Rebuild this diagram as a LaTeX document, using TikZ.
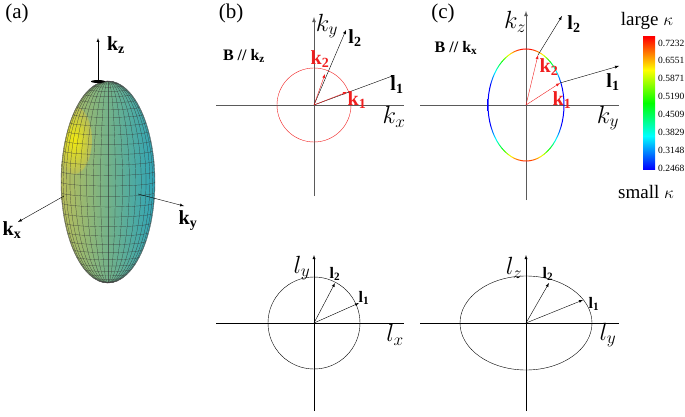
\documentclass[tikz,border=0pt]{standalone}
\usepackage{amsmath,amssymb}
\usepackage{fontspec}
\setmainfont{Liberation Serif}
\usepackage{xcolor}
\usetikzlibrary{calc}
\definecolor{axisgray}{RGB}{90,90,90}
\definecolor{ellred}{RGB}{240,30,30}
\definecolor{ellolive}{RGB}{185,190,90}
\definecolor{ellteal}{RGB}{45,165,185}
\newcommand{\fs}[1]{\fontsize{#1}{#1}\selectfont}
\pgfdeclareverticalshading{kapparing}{100bp}{color(0bp)=(red); color(25bp)=(red);
    color(27.5bp)=(yellow); color(30.5bp)=(green); color(35bp)=(cyan); color(41bp)=(blue);
    color(59bp)=(blue); color(65bp)=(cyan); color(69.5bp)=(green); color(72.5bp)=(yellow);
    color(75bp)=(red); color(100bp)=(red)}
\pgfdeclareverticalshading{kappabar}{100bp}{color(0bp)=(blue); color(25bp)=(blue);
    color(37.5bp)=(cyan); color(50bp)=(green); color(62.5bp)=(yellow); color(75bp)=(red); color(100bp)=(red)}
\begin{document}
\begin{tikzpicture}[x=1pt,y=-1pt,
    axis/.style={draw=axisgray, thick, -latex},
    vec/.style={-latex, thin},
    redvec/.style={-latex, thin, draw=ellred},
    lab/.style={font=\fs{24}, inner sep=1pt},
    blab/.style={font=\fs{20}\bfseries, inner sep=1pt},
    redlab/.style={font=\fs{20}\bfseries, text=ellred, inner sep=1pt},
    panel/.style={font=\fs{21}, inner sep=0pt},
    mesh/.style={black!80, very thin}
]
    \useasboundingbox (0,0) rectangle (685,417);
    % panel labels
    \node[panel] (pa) at (17,13) {(a)};
    \node[panel] (pb) at (231,13) {(b)};
    \node[panel] (pc) at (443,13) {(c)};

    % (a) ellipsoid
    \coordinate (E) at (108,182);
    \begin{scope}
        \clip (E) ellipse [x radius=47, y radius=101];
        \shade[left color=ellolive, right color=ellteal] (60,80) rectangle (156,284);
        \shade[inner color=yellow!90!orange, outer color=ellolive, opacity=0.85]
            (74,140) ellipse [x radius=18, y radius=34];
        \foreach \p in {-81,-72,...,81}
            \draw[mesh] plot[domain=-90:90, samples=25, smooth] ({108+47*sin(\p)*cos(\x)},{182+101*sin(\x)});
        \foreach \q in {-84,-78,...,84}
            \draw[mesh] plot[domain=-90:90, samples=15, smooth] ({108+47*cos(\q)*sin(\x)},{182+101*sin(\q)+4*cos(\q)*cos(\x)});
    \end{scope}
    \draw[black!60, thin] (E) ellipse [x radius=47, y radius=101];
    \fill (98,81.5) ellipse [x radius=7, y radius=1.5];
    \coordinate (kzb) at (98,81);
    \coordinate (kze) at (98,38);
    \coordinate (kxb) at (64,196);
    \coordinate (kxe) at (18,222);
    \coordinate (kyb) at (138,194);
    \coordinate (kye) at (184,206);
    \draw[vec] (kzb) -- (kze);
    \draw[vec] (kxb) -- (kxe);
    \draw[vec] (kyb) -- (kye);
    \node[blab] (kzl) at (116,45) {k$_\mathbf{z}$};
    \node[blab] (kxl) at (12,230) {k$_\mathbf{x}$};
    \node[blab] (kyl) at (188,221) {k$_\mathbf{y}$};

    % (b) upper
    \coordinate (Ob) at (314,105);
    \coordinate (bxl) at (216,105);
    \coordinate (bxr) at (404,105);
    \coordinate (byb) at (314,196);
    \coordinate (byt) at (314,17);
    \draw[axisgray, thick] (bxl) -- (bxr);
    \draw[axis] (byb) -- (byt);
    \draw[ellred, thin] (Ob) circle [radius=37];
    \node[font=\fs{16}\bfseries] (Bz) at (244,56) {B // k$_\mathbf{z}$};
    \node[lab] (bky) at (327,26) {$k_y$};
    \node[lab] (bkx) at (394,117) {$k_x$};
    \coordinate (bl1) at (395,75);
    \coordinate (bl2) at (346,30);
    \coordinate (bk1) at (347,92);
    \coordinate (bk2) at (325,74);
    \draw[vec] (Ob) -- (bl1);
    \draw[vec] (Ob) -- (bl2);
    \draw[redvec] (Ob) -- (bk1);
    \draw[redvec] (Ob) -- (bk2);
    \node[blab] (bl1l) at (397,85) {l$_\mathbf{1}$};
    \node[blab] (bl2l) at (355,38) {l$_\mathbf{2}$};
    \node[redlab] (bk1l) at (357,100) {k$_\mathbf{1}$};
    \node[redlab] (bk2l) at (320,59) {k$_\mathbf{2}$};

    % (c) upper
    \coordinate (Oc) at (526,105);
    \coordinate (cxl) at (420,105);
    \coordinate (cxr) at (619,105);
    \coordinate (cyb) at (526,200);
    \coordinate (cyt) at (526,11);
    \draw[axisgray, thick] (cxl) -- (cxr);
    \draw[axis] (cyb) -- (cyt);
    \begin{scope}[even odd rule]
        \clip (Oc) ellipse [x radius=38.5, y radius=56.5] (Oc) ellipse [x radius=37.5, y radius=55.5];
        \shade[shading=kapparing] (486,48.5) rectangle (566,161.5);
    \end{scope}
    \node[font=\fs{16}\bfseries] (Bx) at (456,48) {B // k$_\mathbf{x}$};
    \node[lab] (cky) at (515,22) {$k_z$};
    \node[lab] (ckx) at (608,118) {$k_y$};
    \coordinate (cl1) at (619,66);
    \coordinate (cl2) at (562,16);
    \coordinate (ck1) at (560,83);
    \coordinate (ck2) at (538,55);
    \draw[vec] (ck1) -- (cl1);
    \draw[vec] (ck2) -- (cl2);
    \draw[redvec] (Oc) -- (ck1);
    \draw[redvec] (Oc) -- (ck2);
    \node[blab] (cl1l) at (613,82) {l$_\mathbf{1}$};
    \node[blab] (cl2l) at (574,24) {l$_\mathbf{2}$};
    \node[redlab] (ck1l) at (562,100) {k$_\mathbf{1}$};
    \node[redlab] (ck2l) at (549,67) {k$_\mathbf{2}$};

    % colour bar
    \shade[shading=kappabar] (643,37) rectangle (655,169);
    \node[font=\fs{19}] (large) at (647,21) {large $\kappa$};
    \node[font=\fs{19}] (small) at (646,192) {small $\kappa$};
    \foreach \v [count=\j from 0] in {0.7232,0.6551,0.5871,0.5190,0.4509,0.3829,0.3148,0.2468}
        \node[font=\fs{9.5}, anchor=west, inner sep=0pt] (cb\j) at (658,{43+17.9*\j}) {\v};

    % (b) lower
    \coordinate (Ob2) at (314,323);
    \coordinate (b2xl) at (216,323);
    \coordinate (b2xr) at (404,323);
    \coordinate (b2yb) at (314,411);
    \coordinate (b2yt) at (314,255);
    \draw[thin] (b2xl) -- (b2xr);
    \draw[thin, -latex] (b2yb) -- (b2yt);
    \draw[thin] (Ob2) circle [radius=46];
    \node[lab] (bly) at (302,268) {$l_y$};
    \node[lab] (blx) at (395,335) {$l_x$};
    \coordinate (b2l1) at (359,303);
    \coordinate (b2l2) at (335,283);
    \draw[vec] (Ob2) -- (b2l1);
    \draw[vec] (Ob2) -- (b2l2);
    \node[font=\fs{16}\bfseries, inner sep=1pt] (b2l1l) at (364,298) {l$_\mathbf{1}$};
    \node[font=\fs{16}\bfseries, inner sep=1pt] (b2l2l) at (335,274) {l$_\mathbf{2}$};

    % (c) lower
    \coordinate (Oc2) at (526,323);
    \coordinate (c2xl) at (420,323);
    \coordinate (c2xr) at (619,323);
    \coordinate (c2yb) at (526,411);
    \coordinate (c2yt) at (526,255);
    \draw[thin] (c2xl) -- (c2xr);
    \draw[thin, -latex] (c2yb) -- (c2yt);
    \draw[thin] (Oc2) ellipse [x radius=66, y radius=47];
    \node[lab] (clz) at (514,268) {$l_z$};
    \node[lab] (cly) at (608,335) {$l_y$};
    \coordinate (c2l1) at (583,300);
    \coordinate (c2l2) at (549,283);
    \draw[vec] (Oc2) -- (c2l1);
    \draw[vec] (Oc2) -- (c2l2);
    \node[font=\fs{16}\bfseries, inner sep=1pt] (c2l1l) at (594,304) {l$_\mathbf{1}$};
    \node[font=\fs{16}\bfseries, inner sep=1pt] (c2l2l) at (548,274) {l$_\mathbf{2}$};
\end{tikzpicture}
\end{document}
